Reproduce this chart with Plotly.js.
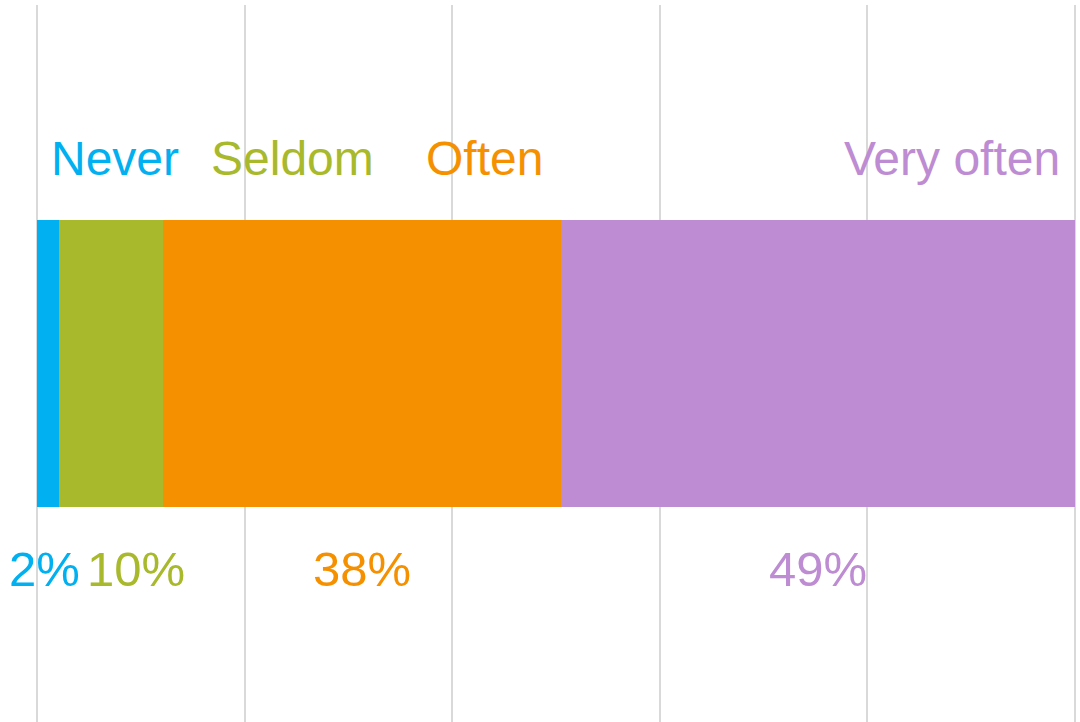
<!DOCTYPE html>
<html>
<head>
<meta charset="utf-8">
<script src="https://cdn.plot.ly/plotly-3.0.1.min.js"></script>
<style>html,body{margin:0;padding:0;background:#fff;}#chart{width:1080px;height:722px;}</style>
</head>
<body>
<div id="chart"></div>
<script>
const categories = ["Never", "Seldom", "Often", "Very often"];
const values = [2.1, 10.0, 38.4, 49.5];
const pctLabels = ["2%", "10%", "38%", "49%"];
const colors = ["#00B0F0", "#A8B92B", "#F59100", "#BE8CD3"];

const traces = categories.map((c, i) => ({
  type: "bar",
  orientation: "h",
  name: c,
  x: [values[i]],
  y: ["row"],
  width: 0.4,
  marker: {color: colors[i], line: {width: 0}},
  hoverinfo: "skip"
}));

const starts = [];
let acc = 0;
values.forEach(v => { starts.push(acc); acc += v; });

const catX = [1.2, 16.6, 37.3, 98.75];
const catAnchor = ["left", "left", "left", "right"];
const pctShift = [-3, 25, 0, 0];

const annotations = [];
categories.forEach((c, i) => {
  annotations.push({
    text: c, x: catX[i], xref: "x", xanchor: catAnchor[i],
    y: 0.786, yref: "paper", yanchor: "middle",
    showarrow: false,
    font: {family: "Liberation Sans, Arial, sans-serif", size: 48, color: colors[i]}
  });
  annotations.push({
    text: pctLabels[i], x: starts[i] + values[i] / 2, xref: "x", xanchor: "center", xshift: pctShift[i],
    y: 0.2127, yref: "paper", yanchor: "middle",
    showarrow: false,
    font: {family: "Liberation Sans, Arial, sans-serif", size: 49, color: colors[i]}
  });
});

const layout = {
  width: 1080, height: 722,
  margin: {l: 36, r: 4, t: 5, b: 0, pad: 0},
  barmode: "stack",
  showlegend: false,
  paper_bgcolor: "#ffffff",
  plot_bgcolor: "#ffffff",
  xaxis: {
    range: [-0.1, 100.1], dtick: 20, tick0: 0,
    showgrid: true, gridcolor: "#d9d9d9", gridwidth: 2,
    zeroline: false, showticklabels: false, ticks: "", showline: false,
    fixedrange: true
  },
  yaxis: {
    range: [-0.5, 0.5], showgrid: false, zeroline: false,
    showticklabels: false, ticks: "", showline: false, fixedrange: true
  },
  annotations: annotations
};

Plotly.newPlot("chart", traces, layout, {displayModeBar: false, staticPlot: true});
</script>
</body>
</html>
